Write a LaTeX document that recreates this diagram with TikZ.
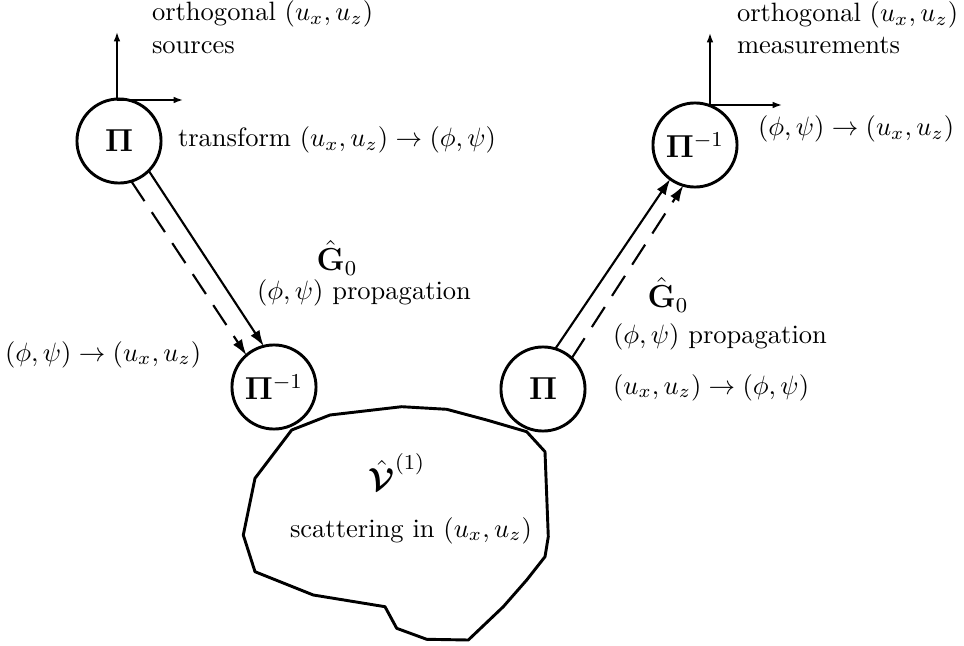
\documentclass[tikz,border=0pt]{standalone}
\usepackage{amsmath,amssymb,bm}
\usetikzlibrary{arrows.meta}
\begin{document}
\begin{tikzpicture}[x=0.377pt,y=-0.377pt,
  op/.style={circle,draw,line width=1.1pt,minimum size=31.7pt,inner sep=0pt,outer sep=0pt,font=\large},
  lbl/.style={inner sep=0pt,outer sep=0pt},
  prop/.style={line width=0.8pt,-{Latex[length=6pt,width=4pt]}},
  propd/.style={prop,dash pattern=on 9pt off 5pt},
  axis/.style={line width=0.6pt,-{Latex[length=3.5pt,width=2.5pt]}}]
\useasboundingbox (0,0) rectangle (964,646);
% operator circles
\node[op] (A) at (119,141) {$\mathbf{\Pi}$};
\node[op] (B) at (274,387) {$\mathbf{\Pi}^{-1}$};
\node[op] (C) at (543,389) {$\mathbf{\Pi}$};
\node[op] (D) at (695,145) {$\mathbf{\Pi}^{-1}$};
% axes
\coordinate (a0) at (117,100);
\coordinate (aup) at (117,32);
\coordinate (art) at (183,100);
\draw[axis] (a0) -- (aup);
\draw[axis] (a0) -- (art);
\coordinate (d0) at (710,105);
\coordinate (dup) at (710,33);
\coordinate (drt) at (782,105);
\draw[axis] (d0) -- (dup);
\draw[axis] (d0) -- (drt);
% propagation arrows
\draw[prop] (A.-45) -- (B.104);
\draw[propd] (A.-73) -- (B.131);
\draw[prop] (C.73) -- (D.234);
\draw[propd] (C.47) -- (D.254);
% scatterer
\draw[line width=1.1pt,line join=round] (291.7,430) -- (330,415) -- (401.7,406.7) -- (446.7,409.3) -- (486.7,420) -- (526.7,431.7) -- (545,451.7) -- (548.3,536.7) -- (545,556.7) -- (526.7,580) -- (503.3,606.7) -- (468.3,640) -- (426.7,639.3) -- (396.7,628.3) -- (385,606.7) -- (313.3,595) -- (255,571.7) -- (243.3,535) -- (255,478.3) -- cycle;
\node[lbl,font=\large] (V) at (397,472) {$\hat{\bm{\mathcal{V}}}^{(1)}$};
\node[lbl,anchor=base west] (scat) at (290,537) {scattering in $(u_x,u_z)$};
% labels
\node[lbl,anchor=base west] (o1) at (152,21) {orthogonal $(u_x,u_z)$};
\node[lbl,anchor=base west] (s1) at (152,54) {sources};
\node[lbl,anchor=base west] (t1) at (178,147) {transform $(u_x,u_z)\to(\phi,\psi)$};
\node[lbl,anchor=base west] (o2) at (737,22) {orthogonal $(u_x,u_z)$};
\node[lbl,anchor=base west] (m2) at (737,54) {measurements};
\node[lbl,anchor=base west] (t2) at (758,136) {$(\phi,\psi)\to(u_x,u_z)$};
\node[lbl,font=\large] (g1) at (337,258) {$\hat{\mathbf{G}}_0$};
\node[lbl] (p1) at (364,293) {$(\phi,\psi)$ propagation};
\node[lbl,anchor=base west] (t3) at (5,361) {$(\phi,\psi)\to(u_x,u_z)$};
\node[lbl,font=\large] (g2) at (668,295) {$\hat{\mathbf{G}}_0$};
\node[lbl,anchor=base west] (p2) at (613,343) {$(\phi,\psi)$ propagation};
\node[lbl,anchor=base west] (t4) at (613,394) {$(u_x,u_z)\to(\phi,\psi)$};
\end{tikzpicture}
\end{document}
